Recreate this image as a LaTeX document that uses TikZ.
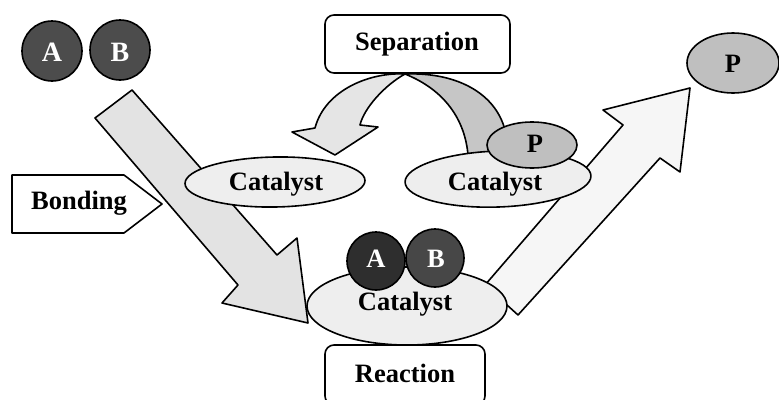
\documentclass[tikz,border=0pt]{standalone}
\usepackage{fontspec}
\setmainfont{Liberation Serif}
\usetikzlibrary{shapes.geometric}
\begin{document}
\begin{tikzpicture}[x=1pt,y=-1pt,
  outl/.style={draw=black,line width=1.6pt,line join=round},
  lbl/.style={font=\fontsize{26.5}{30}\selectfont\bfseries,inner sep=0pt,anchor=base},
  catshape/.style={outl,ellipse,fill=gray!13,inner sep=0pt},
  molshape/.style={outl,circle,minimum size=58pt,inner sep=0pt},
  prodshape/.style={outl,ellipse,fill=gray!50,inner sep=0pt},
  boxshape/.style={outl,rounded corners=9pt,fill=white,inner sep=0pt}]
\useasboundingbox (0,0) rectangle (779,399);

% big block arrows
\draw[outl,fill=gray!22] (95,118) -- (132,90) -- (277,255) -- (297,238) -- (308,323) -- (222,303) -- (238,285) -- cycle;
\draw[outl,fill=gray!7] (485,285) -- (623,125) -- (603,110) -- (690,88) -- (680,172) -- (660,158) -- (518,315) -- cycle;

% curved separation arrows
\draw[outl,fill=gray!45] (405,74) .. controls (455,72) and (495,92) .. (505,130) -- (508,155) -- (468,155) .. controls (465,120) and (445,90) .. (405,74) -- cycle;
\draw[outl,fill=gray!20] (405,74) .. controls (370,72) and (325,90) .. (315,128) -- (292,132) -- (335,155) -- (378,127) -- (360,125) .. controls (364,108) and (385,85) .. (405,74) -- cycle;

% catalysts
\node[catshape,minimum width=180pt,minimum height=50pt,rotate=1] (lcat) at (275,182) {};
\node[lbl] (lcatt) at (276,190) {Catalyst};
\node[catshape,minimum width=186pt,minimum height=56pt,rotate=2] (rcat) at (498,179) {};
\node[prodshape,minimum width=90pt,minimum height=46pt] (rp) at (532,145) {};
\node[lbl] (rpt) at (535,152) {P};
\node[lbl] (rcatt) at (495,190) {Catalyst};

\node[catshape,minimum width=200pt,minimum height=78pt] (bcat) at (407,306) {};
\node[molshape,fill=black!82] (a2) at (376,261) {};
\node[molshape,fill=black!72] (b2) at (435,258) {};
\node[lbl,text=white] (a2t) at (376,267) {A};
\node[lbl,text=white] (b2t) at (436,267) {B};
\node[lbl] (bcatt) at (405,310) {Catalyst};

% boxes
\node[boxshape,minimum width=185pt,minimum height=58pt] (sep) at (417.5,44) {};
\node[lbl] (sept) at (417,50) {Separation};
\node[boxshape,minimum width=160pt,minimum height=60pt] (react) at (405,375) {};
\node[lbl] (reactt) at (405,382) {Reaction};
\draw[outl,fill=white] (12,175) -- (124,175) -- (162,204) -- (124,233) -- (12,233) -- cycle;
\node[lbl] (bond) at (79,209) {Bonding};

% reactants and product
\node[molshape,minimum size=60pt,fill=black!70] (a1) at (52,51) {};
\node[molshape,minimum size=60pt,fill=black!70] (b1) at (120,50) {};
\node[lbl,text=white,font=\fontsize{28}{30}\selectfont\bfseries] (a1t) at (52,61) {A};
\node[lbl,text=white,font=\fontsize{28}{30}\selectfont\bfseries] (b1t) at (120,61) {B};
\node[prodshape,minimum width=92pt,minimum height=60pt] (ptop) at (733,63) {};
\node[lbl] (ptopt) at (733,72) {P};
\end{tikzpicture}
\end{document}
